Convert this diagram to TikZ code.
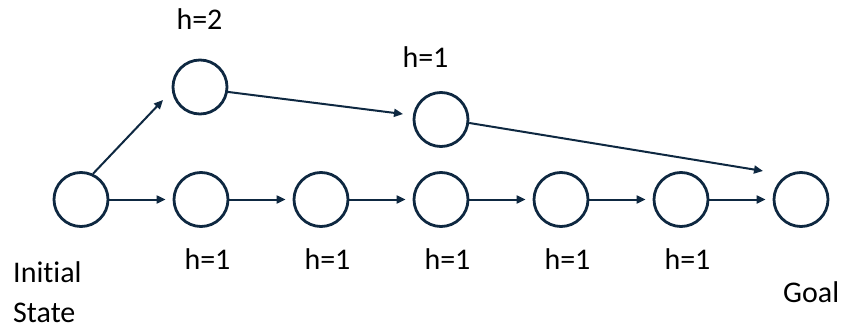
\documentclass[tikz,border=0pt]{standalone}
\usepackage{fontspec}
\setmainfont{Carlito}[Ligatures={NoCommon,NoContextual}]
\usetikzlibrary{arrows.meta,calc}
\definecolor{navy}{HTML}{0E2841}
\begin{document}
\begin{tikzpicture}[x=1pt,y=-1pt,
  state/.style={circle,draw=navy,line width=2.8pt,minimum size=54pt,inner sep=0pt},
  conn/.style={draw=navy,line width=2pt,-{Triangle[length=9pt,width=8pt]}},
  lbl/.style={font=\fontsize{30}{40}\selectfont,inner sep=0pt,anchor=base,text=black}]
\useasboundingbox (0,0) rectangle (846,329);
\node[state] (s0) at (81,199.5) {};
\node[state] (s1) at (201,199.5) {};
\node[state] (s2) at (321,199.5) {};
\node[state] (s3) at (441,199.5) {};
\node[state] (s4) at (561,199.5) {};
\node[state] (s5) at (681,199.5) {};
\node[state] (goal) at (801,199.5) {};
\node[state] (t1) at (200,87) {};
\node[state] (t2) at (441,119.5) {};
\foreach \a/\b in {s0/s1,s1/s2,s2/s3,s3/s4,s4/s5,s5/goal}
  \draw[conn,shorten >=7pt] (\a.east) -- (\b.west);
\draw[conn] (s0.65) -- ($(t1.center)+(-37,13)$);
\draw[conn] (t1.-10) -- ($(t2.center)+(-38,-5.5)$);
\draw[conn] (t2.-7) -- ($(goal.center)+(-38,-28.5)$);
\node[lbl] (l0) at (199.5,30) {h=2};
\node[lbl] (l1) at (425.5,68) {h=1};
\foreach \i/\x in {1/207.5,2/327.5,3/447.5,4/567.5,5/687.5}
  \node[lbl] (b\i) at (\x,269) {h=1};
\node[lbl,anchor=base west] (init) at (13,282) {Initial};
\node[lbl,anchor=base west] (state) at (13,322) {State};
\node[lbl,anchor=base west] (goallbl) at (783,302) {Goal};
\end{tikzpicture}
\end{document}
